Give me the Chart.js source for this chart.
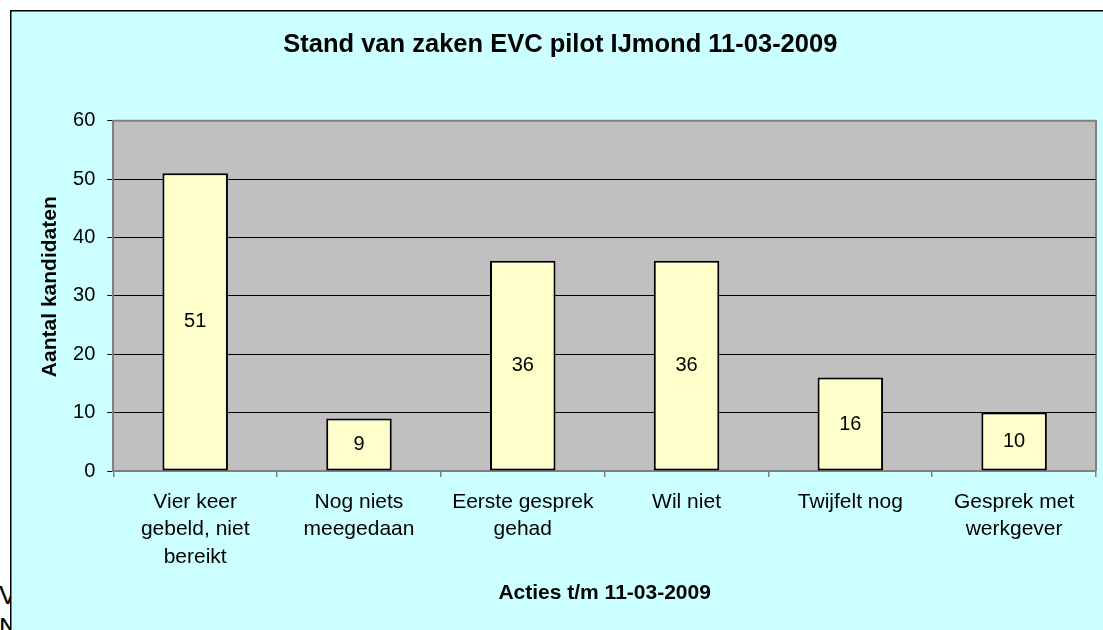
<!DOCTYPE html>
<html>
<head>
<meta charset="utf-8">
<script src="https://cdn.jsdelivr.net/npm/chart.js@4.4.0/dist/chart.umd.min.js"></script>
<style>
  html, body { margin: 0; padding: 0; background: #fff; overflow: hidden; width: 1103px; height: 630px; }
  #achter { position: absolute; left: -1px; top: 579px; font: 26px "Liberation Sans", Arial, sans-serif; line-height: 32px; color: #000; }
  #grafiek { position: absolute; left: 10px; top: 10px; background: #CCFFFF; }
</style>
</head>
<body>
<div id="achter">V<br>N</div>
<canvas id="grafiek" width="1100" height="620"></canvas>
<script>
// ===============================
// DATA
// ===============================
const categorieen = [
  ["Vier keer", "gebeld, niet", "bereikt"],
  ["Nog niets", "meegedaan"],
  ["Eerste gesprek", "gehad"],
  ["Wil niet"],
  ["Twijfelt nog"],
  ["Gesprek met", "werkgever"]
];
const aantallen = [51, 9, 36, 36, 16, 10];

const yMin = 0;
const yMax = 60;
const yStap = 10;

const titel = "Stand van zaken EVC pilot IJmond 11-03-2009";
const yTitel = "Aantal kandidaten";
const xTitel = "Acties t/m 11-03-2009";

const lettertype = "'Liberation Sans', Arial, sans-serif";

// ===============================
// PLUGINS
// ===============================
const kader = {
  id: "kader",
  beforeDraw(chart) {
    const { ctx, chartArea: a, width, height } = chart;
    ctx.save();
    // rand om de hele grafiek
    ctx.fillStyle = "#000";
    ctx.fillRect(0, 0, 1.5, height);
    ctx.fillRect(0, 0, width, 1.5);
    // plotgebied
    ctx.fillStyle = "#C0C0C0";
    ctx.fillRect(a.left, a.top, a.right - a.left, a.bottom - a.top);
    ctx.strokeStyle = "#808080";
    ctx.lineWidth = 2;
    ctx.beginPath();
    ctx.moveTo(a.left, a.top);
    ctx.lineTo(a.right, a.top);
    ctx.lineTo(a.right, a.bottom);
    ctx.stroke();
    ctx.restore();
  }
};

const waarden = {
  id: "waarden",
  afterDatasetsDraw(chart) {
    const { ctx } = chart;
    const meta = chart.getDatasetMeta(0);
    ctx.save();
    ctx.font = "20px " + lettertype;
    ctx.fillStyle = "#000";
    ctx.textAlign = "center";
    ctx.textBaseline = "middle";
    meta.data.forEach((bar, i) => {
      ctx.fillText(String(aantallen[i]), bar.x, (bar.y + bar.base) / 2);
    });
    ctx.restore();
  }
};

const yAsTitel = {
  id: "yAsTitel",
  afterDraw(chart) {
    const { ctx } = chart;
    ctx.save();
    ctx.translate(40, 276.7);
    ctx.rotate(-Math.PI / 2);
    ctx.font = "bold 21px " + lettertype;
    ctx.fillStyle = "#000";
    ctx.textAlign = "center";
    ctx.textBaseline = "middle";
    ctx.fillText(yTitel, 0, 0);
    ctx.restore();
  }
};

// ===============================
// GRAFIEK
// ===============================
new Chart(document.getElementById("grafiek"), {
  type: "bar",
  data: {
    labels: categorieen,
    datasets: [{
      data: aantallen,
      backgroundColor: "#FFFFCC",
      borderColor: "#000",
      borderWidth: 2,
      borderSkipped: false,
      categoryPercentage: 1,
      barPercentage: 0.4
    }]
  },
  options: {
    responsive: false,
    animation: false,
    devicePixelRatio: 1,
    layout: { padding: { left: 14.6, right: 14, top: 0, bottom: 0 } },
    plugins: {
      legend: { display: false },
      tooltip: { enabled: false },
      title: {
        display: true,
        text: titel,
        color: "#000",
        font: { family: lettertype, size: 25.5, weight: "bold", lineHeight: 1.2 },
        padding: { top: 19.5, bottom: 60.6 }
      }
    },
    scales: {
      x: {
        afterFit(scale) { scale.height = 159; },
        grid: {
          offset: true,
          drawOnChartArea: false,
          color: "#808080",
          tickLength: 6,
          lineWidth: 1.5
        },
        border: { color: "#808080", width: 2 },
        ticks: {
          color: "#000",
          padding: 11,
          maxRotation: 0,
          autoSkip: false,
          font: { family: lettertype, size: 21, lineHeight: 1.31 }
        },
        title: {
          display: true,
          text: xTitel,
          color: "#000",
          font: { family: lettertype, size: 21, weight: "bold", lineHeight: 1.2 },
          padding: { top: 0, bottom: 23.9 }
        }
      },
      y: {
        min: yMin,
        max: yMax,
        afterFit(scale) { scale.width = 88.7; },
        grid: {
          color: c => (c.tick && c.tick.value === yMax) ? "rgba(0,0,0,0)" : "#000",
          tickColor: "#000",
          tickLength: 6,
          lineWidth: 1
        },
        border: { color: "#808080", width: 2 },
        ticks: {
          stepSize: yStap,
          color: "#000",
          padding: 12,
          font: { family: lettertype, size: 20 }
        }
      }
    }
  },
  plugins: [kader, waarden, yAsTitel]
});
</script>
</body>
</html>
